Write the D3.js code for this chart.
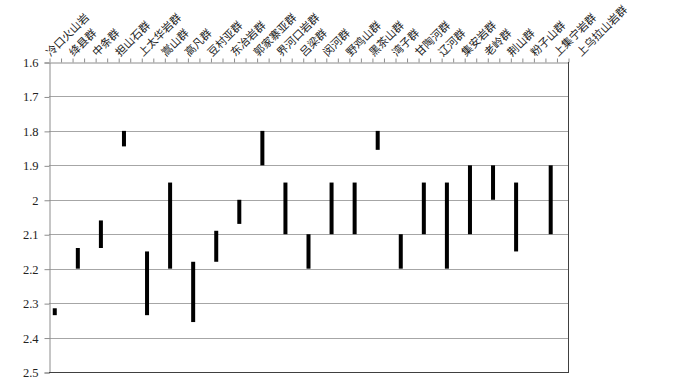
<!DOCTYPE html>
<html lang="zh">

<head>
    <meta charset="utf-8">
    <title>Range chart</title>
    <script type="text/javascript" src="https://cdn.jsdelivr.net/npm/d3@7"></script>
    <style>
        body { margin: 0; background: #fff; }
    </style>
</head>

<body>
    <div id="chart"></div>

    <script>
        // category labels along the top axis
        const labels = ["冷口火山岩", "绛县群", "中条群", "担山石群", "上太华岩群", "嵩山群",
            "高凡群", "豆村亚群", "东冶岩群", "郭家寨亚群", "界河口岩群", "吕梁群", "闵河群",
            "野鸡山群", "黑茶山群", "湾子群", "甘陶河群", "辽河群", "集安岩群", "老岭群",
            "荆山群", "粉子山群", "上集宁岩群", "上乌拉山岩群"];

        // x value (axis units) of each range bar
        const barX = [0.5, 2.5, 4.5, 6.5, 8.5, 10.5, 12.5, 14.5, 16.5, 18.5, 20.5,
            22.5, 24.5, 26.5, 28.5, 30.5, 32.5, 34.5, 36.5, 38.5, 40.5, 43.5];
        const lowVal = [2.315, 2.14, 2.06, 1.80, 2.15, 1.95, 2.18, 2.09, 2.00, 1.80, 1.95,
            2.10, 1.95, 1.95, 1.80, 2.10, 1.95, 1.95, 1.90, 1.90, 1.95, 1.90];
        const highVal = [2.335, 2.20, 2.14, 1.845, 2.335, 2.20, 2.355, 2.18, 2.07, 1.90, 2.10,
            2.20, 2.10, 2.10, 1.855, 2.20, 2.10, 2.20, 2.10, 2.00, 2.15, 2.10];

        const yTicks = [1.6, 1.7, 1.8, 1.9, 2, 2.1, 2.2, 2.3, 2.4, 2.5];

        const width = 700;
        const height = 379;
        const plot = { left: 49, right: 568, top: 62, bottom: 372 };

        const x = d3.scaleLinear().domain([0, 45]).range([plot.left, plot.right]);
        const y = d3.scaleLinear().domain([1.6, 2.5]).range([plot.top, plot.bottom]);

        const svg = d3.select("#chart")
            .append("svg")
            .attr("width", width)
            .attr("height", height);

        // gridlines
        svg.append("g")
            .selectAll("line")
            .data(yTicks.slice(1, -1))
            .enter()
            .append("line")
            .attr("x1", plot.left).attr("x2", plot.right)
            .attr("y1", d => Math.round(y(d)) + 0.5).attr("y2", d => Math.round(y(d)) + 0.5)
            .attr("stroke", "#a6a6a6")
            .attr("stroke-width", 1);

        // left axis
        const yAxis = d3.axisLeft(y).tickValues(yTicks).tickSize(5).tickPadding(6)
            .tickFormat(d3.format(""));
        const gy = svg.append("g")
            .attr("transform", "translate(" + (plot.left + 0.5) + ",0.5)")
            .call(yAxis);
        gy.select(".domain").attr("stroke", "#8c8c8c");
        gy.selectAll(".tick line").attr("stroke", "#8c8c8c");
        gy.selectAll(".tick text")
            .attr("fill", "#222")
            .style("font-family", "'Liberation Serif', 'DejaVu Serif', serif")
            .style("font-size", "12.5px");

        // top axis with minor ticks pointing up
        const xAxis = d3.axisTop(x).tickValues(d3.range(0, 46)).tickSize(4)
            .tickSizeOuter(0).tickFormat("");
        const gx = svg.append("g")
            .attr("transform", "translate(0.5," + (plot.top + 0.5) + ")")
            .call(xAxis);
        gx.select(".domain").attr("stroke", "#8c8c8c");
        gx.selectAll(".tick line").attr("stroke", "#8c8c8c");

        // bottom and right frame
        svg.append("line")
            .attr("x1", plot.left).attr("x2", plot.right + 1)
            .attr("y1", y(2.5) + 0.5).attr("y2", y(2.5) + 0.5)
            .attr("stroke", "#404040");
        svg.append("line")
            .attr("x1", plot.right + 0.5).attr("x2", plot.right + 0.5)
            .attr("y1", plot.top).attr("y2", plot.bottom + 1)
            .attr("stroke", "#404040");

        // range bars
        svg.append("g")
            .selectAll("rect")
            .data(barX)
            .enter()
            .append("rect")
            .attr("x", d => x(d) - 2)
            .attr("width", 4)
            .attr("y", (d, i) => y(lowVal[i]))
            .attr("height", (d, i) => y(highVal[i]) - y(lowVal[i]))
            .attr("fill", "#000");

        // category labels, rotated
        svg.append("g")
            .selectAll("text")
            .data(labels)
            .enter()
            .append("text")
            .attr("transform", (d, i) => "translate(" + (x(2 * i + 0.5) - 4) + "," + (plot.top - 5) + ") rotate(-45)")
            .attr("fill", "#222")
            .style("font-family", "'Noto Sans CJK SC', sans-serif")
            .style("font-size", "11px")
            .text(d => d);
    </script>
</body>

</html>
